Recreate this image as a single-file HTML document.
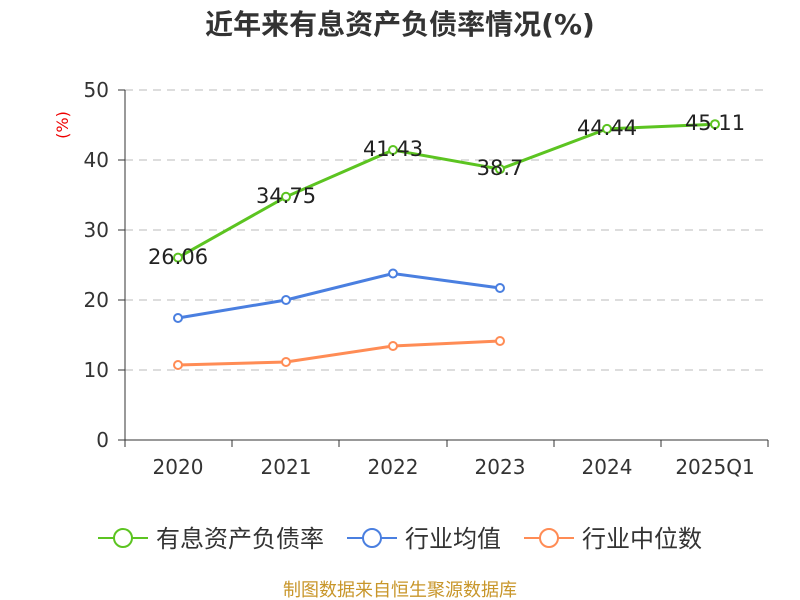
<!DOCTYPE html>
<html><head><meta charset="utf-8"><style>
body{margin:0;background:#fff;}
svg{display:block;font-family:"DejaVu Sans","Noto Sans CJK SC",sans-serif;}
</style></head><body>
<svg width="800" height="600" viewBox="0 0 800 600">
<text x="400" y="34" text-anchor="middle" font-size="28" font-weight="bold" fill="#333">近年来有息资产负债率情况(%)</text>
<text x="68" y="125" text-anchor="middle" font-size="16" fill="#e00" transform="rotate(-90 68 125)">(%)</text>
<g stroke="#bbb" stroke-dasharray="8,6" stroke-width="1">
<line x1="125" y1="90" x2="768" y2="90"/><line x1="125" y1="160" x2="768" y2="160"/>
<line x1="125" y1="230" x2="768" y2="230"/><line x1="125" y1="300" x2="768" y2="300"/>
<line x1="125" y1="370" x2="768" y2="370"/>
</g>
<g stroke="#333" stroke-width="1">
<line x1="125" y1="90" x2="125" y2="440"/>
<line x1="118" y1="90" x2="125" y2="90"/><line x1="118" y1="160" x2="125" y2="160"/><line x1="118" y1="230" x2="125" y2="230"/><line x1="118" y1="300" x2="125" y2="300"/><line x1="118" y1="370" x2="125" y2="370"/><line x1="118" y1="440" x2="125" y2="440"/>
<line x1="125" y1="440" x2="768" y2="440"/>
<line x1="125" y1="440" x2="125" y2="447"/><line x1="232" y1="440" x2="232" y2="447"/><line x1="339" y1="440" x2="339" y2="447"/><line x1="447" y1="440" x2="447" y2="447"/><line x1="554" y1="440" x2="554" y2="447"/><line x1="661" y1="440" x2="661" y2="447"/><line x1="768" y1="440" x2="768" y2="447"/>
</g>
<g font-size="20" fill="#333" text-anchor="end">
<text x="109" y="97">50</text><text x="109" y="167">40</text><text x="109" y="237">30</text><text x="109" y="307">20</text><text x="109" y="377">10</text><text x="109" y="447">0</text>
</g>
<g font-size="20" fill="#333" text-anchor="middle">
<text x="178" y="474">2020</text><text x="286" y="474">2021</text><text x="393" y="474">2022</text><text x="500" y="474">2023</text><text x="607" y="474">2024</text><text x="715" y="474">2025Q1</text>
</g>
<polyline fill="none" stroke="#ff8c55" stroke-width="3" points="178,365 286,362 393,346 500,341"/>
<g fill="#fff" stroke="#ff8c55" stroke-width="2"><circle cx="178" cy="365" r="4"/><circle cx="286" cy="362" r="4"/><circle cx="393" cy="346" r="4"/><circle cx="500" cy="341" r="4"/></g>
<polyline fill="none" stroke="#4a7fe0" stroke-width="3" points="178,318 286,300 393,273.5 500,288"/>
<g fill="#fff" stroke="#4a7fe0" stroke-width="2"><circle cx="178" cy="318" r="4"/><circle cx="286" cy="300" r="4"/><circle cx="393" cy="273.5" r="4"/><circle cx="500" cy="288" r="4"/></g>
<polyline fill="none" stroke="#5cc421" stroke-width="3" points="178,257.6 286,196.8 393,150 500,169.1 607,128.9 715,124.2"/>
<g fill="#fff" stroke="#5cc421" stroke-width="2"><circle cx="178" cy="257.6" r="4"/><circle cx="286" cy="196.8" r="4"/><circle cx="393" cy="150" r="4"/><circle cx="500" cy="169.1" r="4"/><circle cx="607" cy="128.9" r="4"/><circle cx="715" cy="124.2" r="4"/></g>
<g font-size="21" fill="#222" text-anchor="middle">
<text x="178" y="264">26.06</text><text x="286" y="203">34.75</text><text x="393" y="156">41.43</text><text x="500" y="175">38.7</text><text x="607" y="135">44.44</text><text x="715" y="130">45.11</text>
</g>
<g stroke-width="2" fill="#fff">
<line x1="98" y1="538" x2="148" y2="538" stroke="#5cc421"/><circle cx="123" cy="538" r="9" stroke="#5cc421"/>
<line x1="347" y1="538" x2="397" y2="538" stroke="#4a7fe0"/><circle cx="372" cy="538" r="9" stroke="#4a7fe0"/>
<line x1="524" y1="538" x2="574" y2="538" stroke="#ff8c55"/><circle cx="549" cy="538" r="9" stroke="#ff8c55"/>
</g>
<g font-size="24" fill="#333">
<text x="156" y="547">有息资产负债率</text><text x="405" y="547">行业均值</text><text x="582" y="547">行业中位数</text>
</g>
<text x="400" y="596" text-anchor="middle" font-size="18" fill="#c8962a">制图数据来自恒生聚源数据库</text>
</svg>
</body></html>
